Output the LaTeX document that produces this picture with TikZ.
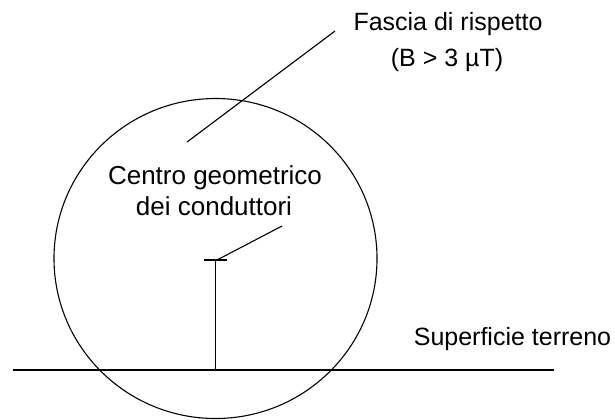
\documentclass[tikz,border=0pt]{standalone}
\usepackage{fontspec}
\setmainfont{Liberation Sans}
\begin{document}
\begin{tikzpicture}[x=1bp,y=-1bp,
  lbl/.style={inner sep=0pt,anchor=base,font=\fontsize{25bp}{30bp}\selectfont},
  thin line/.style={line width=1.1bp,black},
  ground/.style={line width=2.2bp,black}]
\useasboundingbox (0,0) rectangle (615,419);
% zone circle
\draw[thin line] (215.5,258.5) ellipse [x radius=161.5, y radius=160];
% ground
\coordinate (gL) at (13,370);
\coordinate (gR) at (554,370);
\draw[ground] (gL) -- (gR);
% pole
\coordinate (poleB) at (215.7,370);
\coordinate (poleT) at (215.7,260);
\coordinate (barL) at (204,260);
\coordinate (barR) at (227,260);
\draw[thin line] (poleB) -- (poleT);
\draw[thin line] (barL) -- (barR);
% labels
\node[lbl] (fascia1) at (448,30) {Fascia di rispetto};
\node[lbl] (fascia2) at (447,66) {(B > 3 µT)};
\node[lbl,font=\fontsize{26bp}{31bp}\selectfont] (centro1) at (215,184) {Centro geometrico};
\node[lbl,font=\fontsize{26bp}{31bp}\selectfont] (centro2) at (214,215) {dei conduttori};
\node[lbl] (sup) at (512.5,345) {Superficie terreno};
% leaders
\coordinate (fA) at (335,31);
\coordinate (fB) at (187,142);
\draw[thin line] (fA) -- (fB);
\coordinate (cA) at (282,226);
\coordinate (cB) at (217,260);
\draw[thin line] (cA) -- (cB);
\end{tikzpicture}
\end{document}
